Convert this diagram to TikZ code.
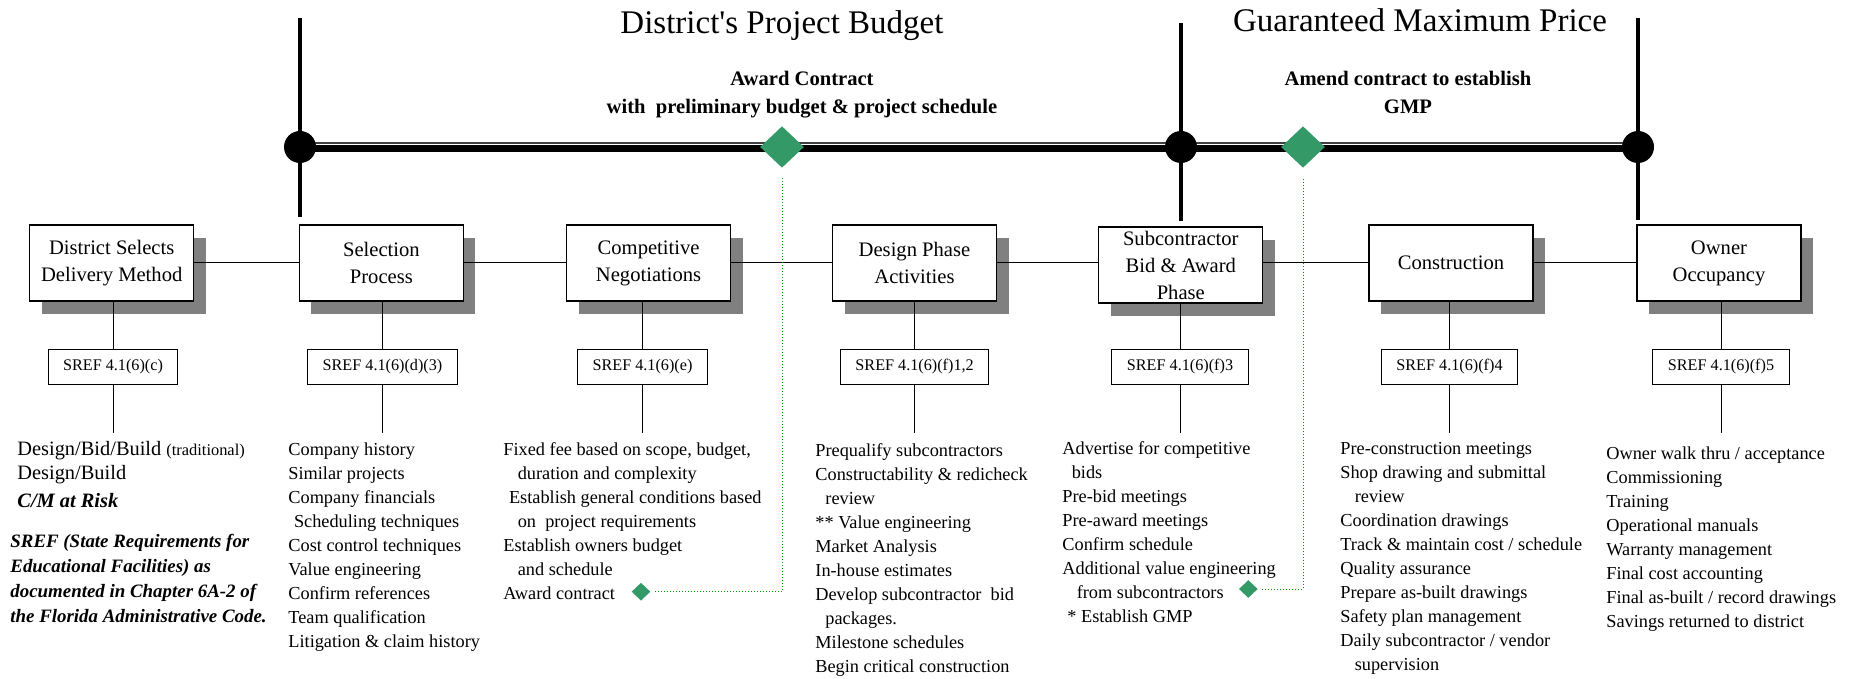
\documentclass[tikz,border=0pt]{standalone}
\usepackage{fontspec}
\setmainfont{Liberation Serif}
\usetikzlibrary{shapes.geometric,shadows}

\definecolor{gmpgreen}{RGB}{51,153,102}
\definecolor{linkgreen}{RGB}{0,153,0}

\tikzset{
  stage/.style={draw, line width=0.6pt, fill=white, minimum width=82pt,
    minimum height=38pt, inner sep=0pt, align=center,
    font=\fontsize{10.3}{13.5}\selectfont,
    drop shadow={shadow xshift=6pt, shadow yshift=-6.5pt, fill=black!50, opacity=1}},
  sref/.style={draw, line width=0.5pt, fill=white, minimum height=17pt,
    inner xsep=7.5pt, inner ysep=0pt, font=\fontsize{8.1}{10}\selectfont},
  tasks/.style={anchor=north west, align=left, inner sep=0pt,
    font=\fontsize{9.15}{12}\selectfont},
  heading/.style={anchor=base, font=\fontsize{16.5}{20}\selectfont},
  event/.style={anchor=north, align=center, inner sep=0pt,
    font=\bfseries\fontsize{10.3}{14}\selectfont},
  milestone/.style={diamond, fill=gmpgreen, inner sep=0pt},
  dot/.style={circle, fill, inner sep=0pt, minimum size=16pt},
  post/.style={line width=2pt},
  wire/.style={line width=0.5pt},
  link/.style={linkgreen, densely dotted, line width=0.5pt},
}

\begin{document}
\begin{tikzpicture}[x=0.5pt, y=-0.5pt]
  \useasboundingbox (0,0) rectangle (1864,679);

  % headings over the two contract periods
  \node[heading] (budget) at (782,34) {District\textquotesingle s Project Budget};
  \node[heading] (gmp) at (1420,32) {Guaranteed Maximum Price};
  \node[event] (award) at (802,71)
    {Award Contract\\with\ \ preliminary budget \& project schedule};
  \node[event] (amend) at (1408,71) {Amend contract to establish\\GMP};

  % time line
  \coordinate (t1) at (300,147);
  \coordinate (t2) at (1181,147);
  \coordinate (t3) at (1638,147);
  \draw[line width=0.75pt, black!75] ([yshift=2pt]t1) -- ([yshift=2pt]t3);
  \draw[line width=3.15pt] ([yshift=-0.75pt]t1) -- ([yshift=-0.75pt]t3);
  \draw[post] (t1) -- ++(0,-129) (t1) -- ++(0,70);
  \draw[post] (t2) -- ++(0,-124) (t2) -- ++(0,74);
  \draw[post] (t3) -- ++(0,-129) (t3) -- ++(0,73);
  \node[dot] (d1) at (t1) {};
  \node[dot] (d2) at (t2) {};
  \node[dot] (d3) at (t3) {};
  \node[milestone, minimum width=22pt, minimum height=20.8pt] (m1) at (782,147) {};
  \node[milestone, minimum width=22pt, minimum height=20.8pt] (m2) at (1303,147) {};

  % phases
  \node[stage] (b1) at (111.7,263) {District Selects\\Delivery Method};
  \node[stage] (b2) at (381.4,263) {Selection\\Process};
  \node[stage] (b3) at (648.6,263) {Competitive\\Negotiations};
  \node[stage] (b4) at (914.5,263) {Design Phase\\Activities};
  \node[stage] (b5) at (1180.8,265) {Subcontractor\\Bid \& Award\\Phase};
  \node[stage] (b6) at (1451,263) {Construction};
  \node[stage] (b7) at (1719,263) {Owner\\Occupancy};

  % SREF references
  \node[sref] (s1) at (113,367) {SREF 4.1(6)(c)};
  \node[sref] (s2) at (382.5,367) {SREF 4.1(6)(d)(3)};
  \node[sref] (s3) at (642.5,367) {SREF 4.1(6)(e)};
  \node[sref] (s4) at (914.6,367) {SREF 4.1(6)(f)1,2};
  \node[sref] (s5) at (1180,367) {SREF 4.1(6)(f)3};
  \node[sref] (s6) at (1449.5,367) {SREF 4.1(6)(f)4};
  \node[sref] (s7) at (1721,367) {SREF 4.1(6)(f)5};

  \coordinate (tick) at (0,433);
  \foreach \a/\b in {b1/b2,b2/b3,b3/b4,b4/b5,b5/b6,b6/b7}
    \draw[wire] (\a.east |- b1.center) -- (\b.west |- b1.center);
  \foreach \i in {1,...,7}{
    \draw[wire] (s\i.north) -- (s\i.north |- b\i.south);
    \draw[wire] (s\i.south) -- (s\i.south |- tick);
  }

  % task lists
  \node[tasks, font=\fontsize{10.2}{12}\selectfont] (l1) at (17,441)
    {Design/Bid/Build {\fontsize{8.2}{10}\selectfont(traditional)}\\
     Design/Build\\[2pt]
     \textbf{\textit{C/M at Risk}}};
  \node[tasks, font=\bfseries\itshape\fontsize{9.45}{12.5}\selectfont] (note) at (10,534)
    {SREF (State Requirements for\\
     Educational Facilities) as\\
     documented in Chapter 6A-2 of\\
     the Florida Administrative Code.};
  \node[tasks] (l2) at (288,442)
    {Company history\\Similar projects\\Company financials\\
     \hspace*{2.8pt}Scheduling techniques\\Cost control techniques\\
     Value engineering\\Confirm references\\Team qualification\\
     Litigation \& claim history};
  \node[tasks] (l3) at (503,442)
    {Fixed fee based on scope, budget,\\
     \hspace*{7.2pt}duration and complexity\\
     \hspace*{2.8pt}Establish general conditions based\\
     \hspace*{7.2pt}on\ \ project requirements\\
     Establish owners budget\\
     \hspace*{7.2pt}and schedule\\
     Award contract};
  \node[tasks] (l4) at (815,443)
    {Prequalify subcontractors\\Constructability \& redicheck\\
     \hspace*{5pt}review\\{}** Value engineering\\Market Analysis\\
     In-house estimates\\Develop subcontractor\ \ bid\\
     \hspace*{5pt}packages.\\Milestone schedules\\Begin critical construction};
  \node[tasks] (l5) at (1062,441)
    {Advertise for competitive\\\hspace*{4.7pt}bids\\Pre-bid meetings\\
     Pre-award meetings\\Confirm schedule\\Additional value engineering\\
     \hspace*{7.2pt}from subcontractors\\\hspace*{2.5pt}* Establish GMP};
  \node[tasks] (l6) at (1340,442)
    {Pre-construction meetings\\Shop drawing and submittal\\
     \hspace*{7.2pt}review\\Coordination drawings\\
     Track \& maintain cost / schedule\\Quality assurance\\
     Prepare as-built drawings\\Safety plan management\\
     Daily subcontractor / vendor\\\hspace*{7.2pt}supervision};
  \node[tasks] (l7) at (1606,446)
    {Owner walk thru / acceptance\\Commissioning\\Training\\
     Operational manuals\\Warranty management\\Final cost accounting\\
     Final as-built / record drawings\\Savings returned to district};

  % award steps tied to the milestones
  \node[milestone, minimum width=9.5pt, minimum height=9pt] (a1) at (641,591.7) {};
  \node[milestone, minimum width=9.5pt, minimum height=9pt] (a2) at (1248.3,589) {};
  \draw[link, shorten <=2pt, shorten >=4.5pt] (a1.east) -| (m1.south);
  \draw[link, shorten <=2pt, shorten >=4.5pt] (a2.east) -| (m2.south);
\end{tikzpicture}
\end{document}
